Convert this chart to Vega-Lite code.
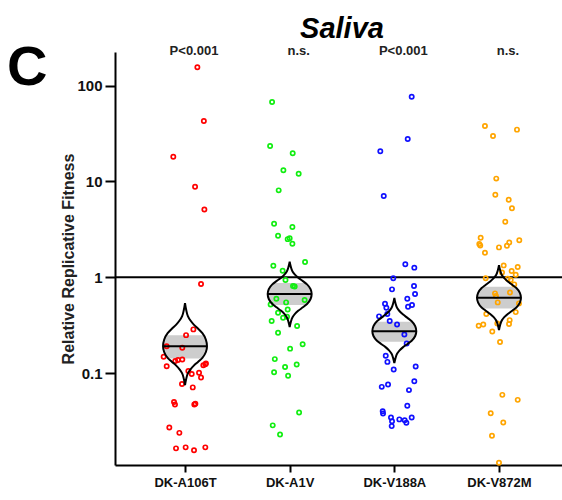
{
  "$schema": "https://vega.github.io/schema/vega-lite/v6.json",
  "width": 454,
  "height": 413,
  "autosize": "none",
  "padding": {"left": 115, "top": 52, "right": 0, "bottom": 35},
  "background": "white",
  "title": {"text": "Saliva", "font": "Liberation Sans", "fontSize": 29, "fontWeight": "bold", "fontStyle": "italic", "color": "#000", "anchor": "middle", "offset": -4},
  "config": {
    "view": {"stroke": null},
    "axis": {"grid": false, "domainColor": "#000", "domainWidth": 2, "tickColor": "#000", "tickWidth": 2, "labelFont": "Liberation Sans", "labelFontWeight": "bold", "labelColor": "#111", "titleFont": "Liberation Sans", "labelOverlap": false}
  },
  "datasets": {
    "pts": [
      {"g":"DK-A106T","pos":1.118,"v":155},{"g":"DK-A106T","pos":1.18,"v":42.7},{"g":"DK-A106T","pos":0.888,"v":18.1},{"g":"DK-A106T","pos":1.096,"v":8.8},{"g":"DK-A106T","pos":1.185,"v":5.1},{"g":"DK-A106T","pos":1.153,"v":0.85},{"g":"DK-A106T","pos":1.08,"v":0.286},{"g":"DK-A106T","pos":1.01,"v":0.249},{"g":"DK-A106T","pos":0.974,"v":0.184},{"g":"DK-A106T","pos":0.825,"v":0.191},{"g":"DK-A106T","pos":0.796,"v":0.148},{"g":"DK-A106T","pos":0.825,"v":0.118},{"g":"DK-A106T","pos":0.907,"v":0.134},{"g":"DK-A106T","pos":0.933,"v":0.137},{"g":"DK-A106T","pos":0.974,"v":0.139},{"g":"DK-A106T","pos":1.032,"v":0.105},{"g":"DK-A106T","pos":1.064,"v":0.098},{"g":"DK-A106T","pos":1.134,"v":0.101},{"g":"DK-A106T","pos":1.153,"v":0.09},{"g":"DK-A106T","pos":1.175,"v":0.121},{"g":"DK-A106T","pos":1.194,"v":0.124},{"g":"DK-A106T","pos":1.2,"v":0.126},{"g":"DK-A106T","pos":0.971,"v":0.077},{"g":"DK-A106T","pos":1.074,"v":0.071},{"g":"DK-A106T","pos":0.895,"v":0.05},{"g":"DK-A106T","pos":0.904,"v":0.047},{"g":"DK-A106T","pos":1.089,"v":0.047},{"g":"DK-A106T","pos":1.099,"v":0.048},{"g":"DK-A106T","pos":0.85,"v":0.0271},{"g":"DK-A106T","pos":0.946,"v":0.0238},{"g":"DK-A106T","pos":0.914,"v":0.0164},{"g":"DK-A106T","pos":1.006,"v":0.0168},{"g":"DK-A106T","pos":1.086,"v":0.0157},{"g":"DK-A106T","pos":1.194,"v":0.0168},
      {"g":"DK-A1V","pos":1.832,"v":67.4},{"g":"DK-A1V","pos":1.813,"v":23.4},{"g":"DK-A1V","pos":2.029,"v":19.7},{"g":"DK-A1V","pos":1.94,"v":13.1},{"g":"DK-A1V","pos":2.086,"v":12.0},{"g":"DK-A1V","pos":1.895,"v":8.07},{"g":"DK-A1V","pos":1.851,"v":3.62},{"g":"DK-A1V","pos":2.026,"v":3.34},{"g":"DK-A1V","pos":1.889,"v":2.71},{"g":"DK-A1V","pos":1.981,"v":2.5},{"g":"DK-A1V","pos":2.0,"v":2.55},{"g":"DK-A1V","pos":2.026,"v":2.24},{"g":"DK-A1V","pos":2.147,"v":1.44},{"g":"DK-A1V","pos":1.844,"v":1.32},{"g":"DK-A1V","pos":1.933,"v":1.17},{"g":"DK-A1V","pos":1.96,"v":0.935},{"g":"DK-A1V","pos":2.032,"v":0.81},{"g":"DK-A1V","pos":2.048,"v":0.8},{"g":"DK-A1V","pos":1.873,"v":0.597},{"g":"DK-A1V","pos":1.966,"v":0.547},{"g":"DK-A1V","pos":2.143,"v":0.578},{"g":"DK-A1V","pos":1.818,"v":0.521},{"g":"DK-A1V","pos":1.889,"v":0.426},{"g":"DK-A1V","pos":1.981,"v":0.462},{"g":"DK-A1V","pos":1.937,"v":0.378},{"g":"DK-A1V","pos":1.975,"v":0.387},{"g":"DK-A1V","pos":1.828,"v":0.349},{"g":"DK-A1V","pos":2.071,"v":0.31},{"g":"DK-A1V","pos":1.889,"v":0.264},{"g":"DK-A1V","pos":2.124,"v":0.2},{"g":"DK-A1V","pos":2.004,"v":0.18},{"g":"DK-A1V","pos":1.858,"v":0.14},{"g":"DK-A1V","pos":2.067,"v":0.123},{"g":"DK-A1V","pos":1.956,"v":0.116},{"g":"DK-A1V","pos":1.851,"v":0.102},{"g":"DK-A1V","pos":1.985,"v":0.094},{"g":"DK-A1V","pos":2.09,"v":0.0389},{"g":"DK-A1V","pos":1.838,"v":0.0285},{"g":"DK-A1V","pos":1.908,"v":0.0229},
      {"g":"DK-V188A","pos":3.166,"v":76.6},{"g":"DK-V188A","pos":3.128,"v":27.7},{"g":"DK-V188A","pos":2.866,"v":20.6},{"g":"DK-V188A","pos":2.899,"v":7.05},{"g":"DK-V188A","pos":3.105,"v":1.37},{"g":"DK-V188A","pos":3.191,"v":1.26},{"g":"DK-V188A","pos":2.99,"v":0.975},{"g":"DK-V188A","pos":2.978,"v":0.748},{"g":"DK-V188A","pos":3.188,"v":0.81},{"g":"DK-V188A","pos":3.198,"v":0.668},{"g":"DK-V188A","pos":3.124,"v":0.597},{"g":"DK-V188A","pos":2.911,"v":0.529},{"g":"DK-V188A","pos":2.924,"v":0.481},{"g":"DK-V188A","pos":3.169,"v":0.513},{"g":"DK-V188A","pos":3.131,"v":0.492},{"g":"DK-V188A","pos":2.854,"v":0.391},{"g":"DK-V188A","pos":2.933,"v":0.413},{"g":"DK-V188A","pos":2.956,"v":0.349},{"g":"DK-V188A","pos":3.026,"v":0.322},{"g":"DK-V188A","pos":3.096,"v":0.253},{"g":"DK-V188A","pos":3.118,"v":0.204},{"g":"DK-V188A","pos":2.918,"v":0.152},{"g":"DK-V188A","pos":2.934,"v":0.131},{"g":"DK-V188A","pos":2.994,"v":0.109},{"g":"DK-V188A","pos":3.204,"v":0.117},{"g":"DK-V188A","pos":3.191,"v":0.0824},{"g":"DK-V188A","pos":2.88,"v":0.0719},{"g":"DK-V188A","pos":2.94,"v":0.0762},{"g":"DK-V188A","pos":3.14,"v":0.0665},{"g":"DK-V188A","pos":3.124,"v":0.0456},{"g":"DK-V188A","pos":2.889,"v":0.0401},{"g":"DK-V188A","pos":2.892,"v":0.0379},{"g":"DK-V188A","pos":2.968,"v":0.0345},{"g":"DK-V188A","pos":3.048,"v":0.0329},{"g":"DK-V188A","pos":3.099,"v":0.0323},{"g":"DK-V188A","pos":3.166,"v":0.0345},{"g":"DK-V188A","pos":2.978,"v":0.0315},{"g":"DK-V188A","pos":2.975,"v":0.028},{"g":"DK-V188A","pos":3.115,"v":0.0303},
      {"g":"DK-V872M","pos":3.866,"v":37.9},{"g":"DK-V872M","pos":4.172,"v":34.7},{"g":"DK-V872M","pos":3.943,"v":29.8},{"g":"DK-V872M","pos":3.974,"v":10.7},{"g":"DK-V872M","pos":3.965,"v":7.26},{"g":"DK-V872M","pos":4.093,"v":6.44},{"g":"DK-V872M","pos":4.124,"v":5.24},{"g":"DK-V872M","pos":4.06,"v":3.8},{"g":"DK-V872M","pos":3.825,"v":2.58},{"g":"DK-V872M","pos":3.812,"v":2.22},{"g":"DK-V872M","pos":3.821,"v":2.15},{"g":"DK-V872M","pos":4.194,"v":2.43},{"g":"DK-V872M","pos":4.098,"v":2.31},{"g":"DK-V872M","pos":4.076,"v":2.13},{"g":"DK-V872M","pos":4.0,"v":2.05},{"g":"DK-V872M","pos":3.866,"v":1.8},{"g":"DK-V872M","pos":4.045,"v":1.33},{"g":"DK-V872M","pos":4.179,"v":1.28},{"g":"DK-V872M","pos":4.121,"v":1.16},{"g":"DK-V872M","pos":4.029,"v":1.12},{"g":"DK-V872M","pos":4.16,"v":1.06},{"g":"DK-V872M","pos":3.873,"v":0.975},{"g":"DK-V872M","pos":4.083,"v":0.965},{"g":"DK-V872M","pos":4.112,"v":0.935},{"g":"DK-V872M","pos":4.146,"v":0.843},{"g":"DK-V872M","pos":4.105,"v":0.695},{"g":"DK-V872M","pos":3.962,"v":0.679},{"g":"DK-V872M","pos":3.971,"v":0.637},{"g":"DK-V872M","pos":3.988,"v":0.547},{"g":"DK-V872M","pos":4.191,"v":0.534},{"g":"DK-V872M","pos":4.16,"v":0.433},{"g":"DK-V872M","pos":3.879,"v":0.413},{"g":"DK-V872M","pos":4.102,"v":0.357},{"g":"DK-V872M","pos":4.096,"v":0.325},{"g":"DK-V872M","pos":3.85,"v":0.322},{"g":"DK-V872M","pos":3.806,"v":0.312},{"g":"DK-V872M","pos":3.984,"v":0.33},{"g":"DK-V872M","pos":3.936,"v":0.272},{"g":"DK-V872M","pos":4.01,"v":0.211},{"g":"DK-V872M","pos":4.032,"v":0.0593},{"g":"DK-V872M","pos":4.179,"v":0.0526},{"g":"DK-V872M","pos":3.921,"v":0.0382},{"g":"DK-V872M","pos":4.041,"v":0.0306},{"g":"DK-V872M","pos":3.933,"v":0.0222},{"g":"DK-V872M","pos":4.0,"v":0.0116}
    ],
    "vio": [
      {"g":"DK-A106T","v":0.538,"lo":1,"hi":1},{"g":"DK-A106T","v":0.461,"lo":0.9895,"hi":1.0105},{"g":"DK-A106T","v":0.394,"lo":0.9727,"hi":1.0273},{"g":"DK-A106T","v":0.356,"lo":0.9496,"hi":1.0504},{"g":"DK-A106T","v":0.321,"lo":0.916,"hi":1.084},{"g":"DK-A106T","v":0.29,"lo":0.874,"hi":1.126},{"g":"DK-A106T","v":0.261,"lo":0.834,"hi":1.166},{"g":"DK-A106T","v":0.223,"lo":0.8005,"hi":1.1995},{"g":"DK-A106T","v":0.191,"lo":0.79,"hi":1.21},{"g":"DK-A106T","v":0.166,"lo":0.8005,"hi":1.1995},{"g":"DK-A106T","v":0.1445,"lo":0.834,"hi":1.166},{"g":"DK-A106T","v":0.1315,"lo":0.874,"hi":1.126},{"g":"DK-A106T","v":0.1198,"lo":0.916,"hi":1.084},{"g":"DK-A106T","v":0.109,"lo":0.9496,"hi":1.0504},{"g":"DK-A106T","v":0.0993,"lo":0.9727,"hi":1.0273},{"g":"DK-A106T","v":0.0863,"lo":0.9895,"hi":1.0105},{"g":"DK-A106T","v":0.075,"lo":1,"hi":1},
      {"g":"DK-A1V","v":1.452,"lo":2,"hi":2},{"g":"DK-A1V","v":1.291,"lo":1.9895,"hi":2.0105},{"g":"DK-A1V","v":1.151,"lo":1.9727,"hi":2.0273},{"g":"DK-A1V","v":1.064,"lo":1.9496,"hi":2.0504},{"g":"DK-A1V","v":0.985,"lo":1.916,"hi":2.084},{"g":"DK-A1V","v":0.912,"lo":1.874,"hi":2.126},{"g":"DK-A1V","v":0.843,"lo":1.834,"hi":2.166},{"g":"DK-A1V","v":0.751,"lo":1.8005,"hi":2.1995},{"g":"DK-A1V","v":0.668,"lo":1.79,"hi":2.21},{"g":"DK-A1V","v":0.593,"lo":1.8005,"hi":2.1995},{"g":"DK-A1V","v":0.527,"lo":1.834,"hi":2.166},{"g":"DK-A1V","v":0.486,"lo":1.874,"hi":2.126},{"g":"DK-A1V","v":0.449,"lo":1.916,"hi":2.084},{"g":"DK-A1V","v":0.415,"lo":1.9496,"hi":2.0504},{"g":"DK-A1V","v":0.383,"lo":1.9727,"hi":2.0273},{"g":"DK-A1V","v":0.34,"lo":1.9895,"hi":2.0105},{"g":"DK-A1V","v":0.302,"lo":2,"hi":2},
      {"g":"DK-V188A","v":0.607,"lo":3,"hi":3},{"g":"DK-V188A","v":0.538,"lo":2.9895,"hi":3.0105},{"g":"DK-V188A","v":0.478,"lo":2.9727,"hi":3.0273},{"g":"DK-V188A","v":0.4416,"lo":2.9496,"hi":3.0504},{"g":"DK-V188A","v":0.408,"lo":2.916,"hi":3.084},{"g":"DK-V188A","v":0.3767,"lo":2.874,"hi":3.126},{"g":"DK-V188A","v":0.348,"lo":2.834,"hi":3.166},{"g":"DK-V188A","v":0.309,"lo":2.8005,"hi":3.1995},{"g":"DK-V188A","v":0.274,"lo":2.79,"hi":3.21},{"g":"DK-V188A","v":0.244,"lo":2.8005,"hi":3.1995},{"g":"DK-V188A","v":0.218,"lo":2.834,"hi":3.166},{"g":"DK-V188A","v":0.2015,"lo":2.874,"hi":3.126},{"g":"DK-V188A","v":0.1866,"lo":2.916,"hi":3.084},{"g":"DK-V188A","v":0.1728,"lo":2.9496,"hi":3.0504},{"g":"DK-V188A","v":0.16,"lo":2.9727,"hi":3.0273},{"g":"DK-V188A","v":0.1426,"lo":2.9895,"hi":3.0105},{"g":"DK-V188A","v":0.127,"lo":3,"hi":3},
      {"g":"DK-V872M","v":1.34,"lo":4,"hi":4},{"g":"DK-V872M","v":1.191,"lo":3.9895,"hi":4.0105},{"g":"DK-V872M","v":1.059,"lo":3.9727,"hi":4.0273},{"g":"DK-V872M","v":0.979,"lo":3.9496,"hi":4.0504},{"g":"DK-V872M","v":0.905,"lo":3.916,"hi":4.084},{"g":"DK-V872M","v":0.836,"lo":3.874,"hi":4.126},{"g":"DK-V872M","v":0.773,"lo":3.834,"hi":4.166},{"g":"DK-V872M","v":0.687,"lo":3.8005,"hi":4.1995},{"g":"DK-V872M","v":0.611,"lo":3.79,"hi":4.21},{"g":"DK-V872M","v":0.5436,"lo":3.8005,"hi":4.1995},{"g":"DK-V872M","v":0.484,"lo":3.834,"hi":4.166},{"g":"DK-V872M","v":0.448,"lo":3.874,"hi":4.126},{"g":"DK-V872M","v":0.4145,"lo":3.916,"hi":4.084},{"g":"DK-V872M","v":0.3837,"lo":3.9496,"hi":4.0504},{"g":"DK-V872M","v":0.355,"lo":3.9727,"hi":4.0273},{"g":"DK-V872M","v":0.316,"lo":3.9895,"hi":4.0105},{"g":"DK-V872M","v":0.281,"lo":4,"hi":4}
    ],
    "band": [
      {"g":"DK-A106T","v":0.249,"lo":0.824,"hi":1.176},{"g":"DK-A106T","v":0.223,"lo":0.8005,"hi":1.1995},{"g":"DK-A106T","v":0.191,"lo":0.79,"hi":1.21},{"g":"DK-A106T","v":0.166,"lo":0.8005,"hi":1.1995},{"g":"DK-A106T","v":0.142,"lo":0.84,"hi":1.16},
      {"g":"DK-A1V","v":0.869,"lo":1.847,"hi":2.153},{"g":"DK-A1V","v":0.751,"lo":1.8005,"hi":2.1995},{"g":"DK-A1V","v":0.668,"lo":1.79,"hi":2.21},{"g":"DK-A1V","v":0.593,"lo":1.8005,"hi":2.1995},{"g":"DK-A1V","v":0.513,"lo":1.845,"hi":2.155},
      {"g":"DK-V188A","v":0.343,"lo":2.828,"hi":3.172},{"g":"DK-V188A","v":0.309,"lo":2.8005,"hi":3.1995},{"g":"DK-V188A","v":0.274,"lo":2.79,"hi":3.21},{"g":"DK-V188A","v":0.244,"lo":2.8005,"hi":3.1995},{"g":"DK-V188A","v":0.212,"lo":2.845,"hi":3.155},
      {"g":"DK-V872M","v":0.796,"lo":3.847,"hi":4.153},{"g":"DK-V872M","v":0.687,"lo":3.8005,"hi":4.1995},{"g":"DK-V872M","v":0.611,"lo":3.79,"hi":4.21},{"g":"DK-V872M","v":0.5436,"lo":3.8005,"hi":4.1995},{"g":"DK-V872M","v":0.473,"lo":3.845,"hi":4.155}
    ],
    "med": [
      {"g":"DK-A106T","v":0.191,"lo":0.79,"hi":1.21},
      {"g":"DK-A1V","v":0.668,"lo":1.79,"hi":2.21},
      {"g":"DK-V188A","v":0.274,"lo":2.79,"hi":3.21},
      {"g":"DK-V872M","v":0.611,"lo":3.79,"hi":4.21}
    ],
    "pv": [
      {"k":1,"label":"P<0.001"},{"k":2,"label":"n.s."},{"k":3,"label":"P<0.001"},{"k":4,"label":"n.s."}
    ]
  },
  "layer": [
    {
      "data": {"values": [{"v": 1}]},
      "mark": {"type": "rule", "color": "#000", "strokeWidth": 2},
      "encoding": {"y": {"field": "v", "type": "quantitative"}}
    },
    {
      "data": {"name": "band"},
      "mark": {"type": "area", "orient": "horizontal", "color": "#cdcdcd", "opacity": 1, "interpolate": "monotone"},
      "encoding": {
        "y": {"field": "v", "type": "quantitative"},
        "x": {"field": "lo", "type": "quantitative", "title": null},
        "x2": {"field": "hi"},
        "detail": {"field": "g"}
      }
    },
    {
      "data": {"name": "pts"},
      "mark": {"type": "point", "shape": "circle", "filled": false, "size": 18, "strokeWidth": 1.7, "opacity": 1},
      "encoding": {
        "x": {"field": "pos", "type": "quantitative", "title": null,
          "scale": {"domain": [0.331, 4.669], "nice": false, "zero": false},
          "axis": {"values": [1, 2, 3, 4], "labelExpr": "['','DK-A106T','DK-A1V','DK-V188A','DK-V872M'][datum.value]", "labelFontSize": 13, "tickSize": 7, "labelPadding": 4, "title": null}},
        "y": {"field": "v", "type": "quantitative",
          "scale": {"type": "log", "domain": [0.011, 224], "nice": false, "zero": false},
          "axis": {"values": [0.1, 1, 10, 100], "format": "~g", "labelFontSize": 15, "tickSize": 10, "labelPadding": 3, "title": "Relative Replicative Fitness", "titleFontSize": 16, "titleFontWeight": "bold", "titleColor": "#222", "titlePadding": 0}},
        "color": {"field": "g", "type": "nominal", "legend": null,
          "scale": {"domain": ["DK-A106T", "DK-A1V", "DK-V188A", "DK-V872M"], "range": ["#ff0000", "#11ee11", "#1010ff", "#ffa500"]}}
      }
    },
    {
      "data": {"name": "vio"},
      "mark": {"type": "area", "orient": "horizontal", "fill": "transparent", "stroke": "#000", "strokeWidth": 2, "interpolate": "monotone"},
      "encoding": {
        "y": {"field": "v", "type": "quantitative"},
        "x": {"field": "lo", "type": "quantitative", "title": null},
        "x2": {"field": "hi"},
        "detail": {"field": "g"}
      }
    },
    {
      "data": {"name": "med"},
      "mark": {"type": "rule", "color": "#000", "strokeWidth": 2},
      "encoding": {
        "y": {"field": "v", "type": "quantitative"},
        "x": {"field": "lo", "type": "quantitative", "title": null},
        "x2": {"field": "hi"}
      }
    },
    {
      "data": {"name": "pv"},
      "mark": {"type": "text", "font": "Liberation Sans", "fontSize": 13, "fontWeight": "bold", "color": "#222", "baseline": "alphabetic", "align": "center", "dx": 9},
      "encoding": {
        "x": {"field": "k", "type": "quantitative", "title": null},
        "y": {"datum": 208, "type": "quantitative"},
        "text": {"field": "label"}
      }
    },
    {
      "data": {"values": [{"label": "C"}]},
      "mark": {"type": "text", "font": "Liberation Sans", "fontSize": 56, "fontWeight": "bold", "color": "#000", "baseline": "alphabetic", "align": "left"},
      "encoding": {
        "x": {"datum": -0.70, "type": "quantitative"},
        "y": {"datum": 101, "type": "quantitative"},
        "text": {"field": "label"}
      }
    }
  ]
}
